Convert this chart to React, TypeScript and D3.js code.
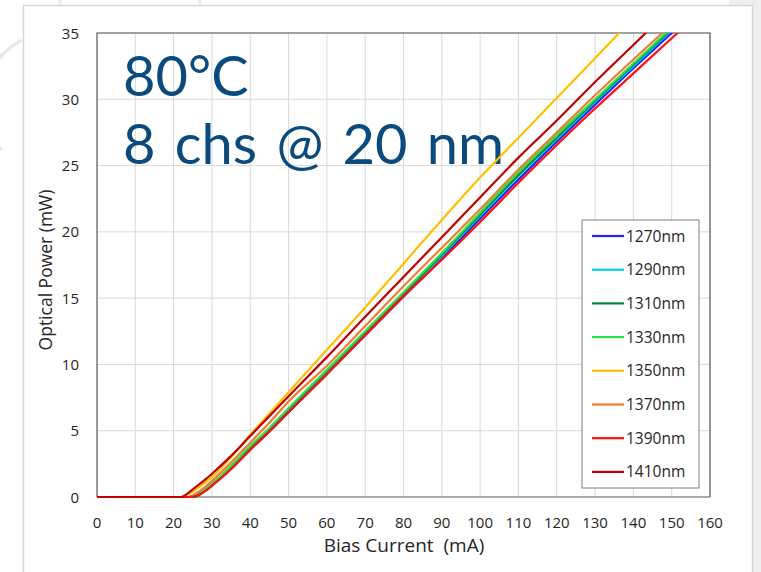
import React from "react";
import * as d3 from "d3";

const currents = [0, 20, 22, 24, 26, 28, 30, 35, 40, 45, 50, 60, 70, 80, 90, 100, 110, 120, 130, 140, 150, 160];

const seriesNames = ["1270nm", "1290nm", "1310nm", "1330nm", "1350nm", "1370nm", "1390nm", "1410nm"];
const seriesColors = ["#1f1fff", "#00d2ee", "#008a3e", "#2ee04a", "#ffc000", "#ed7d31", "#ff1010", "#c00000"];

const p1270 = [0, 0, 0, 0, 0.15, 0.5, 0.95, 2.2, 3.6, 4.95, 6.4, 9.3, 12.2, 15.1, 18.0, 21.0, 23.95, 26.8, 29.6, 32.35, 35.0, 37.7];
const p1290 = [0, 0, 0, 0, 0.2, 0.55, 1.0, 2.3, 3.7, 5.05, 6.5, 9.4, 12.3, 15.2, 18.2, 21.2, 24.2, 27.0, 29.8, 32.5, 35.2, 37.8];
const p1310 = [0, 0, 0, 0, 0.05, 0.4, 0.85, 2.25, 3.75, 5.1, 6.6, 9.5, 12.4, 15.3, 18.3, 21.3, 24.3, 27.1, 29.9, 32.6, 35.3, 37.9];
const p1330 = [0, 0, 0, 0, 0.15, 0.5, 0.95, 2.35, 3.85, 5.2, 6.7, 9.6, 12.5, 15.45, 18.4, 21.45, 24.5, 27.3, 30.0, 32.7, 35.4, 38.0];
const p1350 = [0, 0, 0, 0.25, 0.6, 1.05, 1.5, 3.0, 4.7, 6.3, 7.9, 11.1, 14.3, 17.6, 20.9, 24.1, 27.1, 30.1, 33.1, 36.1, 39.0, 41.9];
const p1370 = [0, 0, 0, 0, 0.3, 0.7, 1.2, 2.6, 4.1, 5.6, 7.2, 9.9, 12.9, 15.9, 18.8, 21.7, 24.7, 27.5, 30.3, 33.0, 35.65, 38.3];
const p1390 = [0, 0, 0, 0, 0.1, 0.4, 0.85, 2.1, 3.55, 4.95, 6.4, 9.25, 12.2, 15.15, 17.9, 20.75, 23.7, 26.55, 29.3, 31.95, 34.6, 37.2];
const p1410 = [0, 0, 0, 0.35, 0.8, 1.25, 1.75, 3.1, 4.6, 6.1, 7.6, 10.55, 13.6, 16.6, 19.6, 22.6, 25.6, 28.4, 31.3, 34.1, 36.9, 39.7];

const seriesValues = [p1270, p1290, p1310, p1330, p1350, p1370, p1390, p1410];

const xTicks = [0, 10, 20, 30, 40, 50, 60, 70, 80, 90, 100, 110, 120, 130, 140, 150, 160];
const yTicks = [0, 5, 10, 15, 20, 25, 30, 35];

const titleLines = ["80°C", "8 chs @ 20 nm"];

export default function App() {
  const W = 761, H = 572;
  const left = 97, right = 710, top = 33, bottom = 497;
  const x = d3.scaleLinear().domain([0, 160]).range([left, right]);
  const y = d3.scaleLinear().domain([0, 35]).range([bottom, top]);
  const line = d3.line<[number, number]>().x(d => x(d[0])).y(d => y(d[1])).curve(d3.curveMonotoneX);
  const font = "'Open Sans', 'Noto Sans', sans-serif";

  const legX = 582, legY = 220, legW = 117, legH = 268;
  const legStep = 33.7;

  return (
    <svg width={W} height={H} style={{ position: "absolute", left: 0, top: 0 }} fontFamily={font}>
      <rect x={0} y={0} width={W} height={H} fill="#ffffff" />
      <rect x={729} y={0} width={32} height={5} fill="#efefef" />
      <rect x={753} y={0} width={8} height={H} fill="#efefef" />
      <path d="M 2 150 A 70 70 0 0 1 22 40" fill="none" stroke="#e6e6e6" strokeWidth={3} />
      <path d="M 60 18 A 70 70 0 0 1 200 5" fill="none" stroke="#ececec" strokeWidth={3} />
      <rect x={23.5} y={5.5} width={729} height={580} fill="#ffffff" stroke="#d6d6d6" strokeWidth={1.5} />
      <defs>
        <clipPath id="plotclip">
          <rect x={left} y={top} width={right - left} height={bottom - top + 2} />
        </clipPath>
      </defs>
      {xTicks.slice(1).map(t => (
        <line key={"gx" + t} x1={x(t)} x2={x(t)} y1={top} y2={bottom} stroke="#d9d9d9" strokeWidth={1} />
      ))}
      {yTicks.slice(1).map(t => (
        <line key={"gy" + t} x1={left} x2={right} y1={y(t)} y2={y(t)} stroke="#d9d9d9" strokeWidth={1} />
      ))}
      <path d={`M ${left} ${bottom} V ${top} H ${right} V ${bottom}`} fill="none" stroke="#595959" strokeWidth={1.2} />
      <line x1={left} x2={right} y1={bottom} y2={bottom} stroke="#8c8c8c" strokeWidth={1.5} />
      {titleLines.map((t, i) => (
        <text key={t} x={123} y={96 + i * 68} fontSize={56} wordSpacing={i === 1 ? 5 : 0} fontFamily="Lato, 'Open Sans', sans-serif" fill="#0a4a7c">{t}</text>
      ))}
      <g clipPath="url(#plotclip)">
        {seriesValues.map((vals, i) => (
          <path
            key={seriesNames[i]}
            d={line(currents.map((c, j) => [c, vals[j]] as [number, number])) || ""}
            fill="none"
            stroke={seriesColors[i]}
            strokeWidth={2.2}
            strokeLinejoin="round"
          />
        ))}
      </g>
      {xTicks.map(t => (
        <text key={"tx" + t} x={x(t)} y={528} textAnchor="middle" fontSize={15} fill="#262626">{t}</text>
      ))}
      {yTicks.map(t => (
        <text key={"ty" + t} x={79} y={y(t) + 5.5} textAnchor="end" fontSize={15} fill="#262626">{t}</text>
      ))}
      <text x={404} y={552} textAnchor="middle" fontSize={19} fill="#262626">{"Bias Current\u00a0 (mA)"}</text>
      <text transform={`translate(52,270) rotate(-90)`} textAnchor="middle" fontSize={17.5} fill="#262626">Optical Power (mW)</text>
      <rect x={legX} y={legY} width={legW} height={legH} fill="#ffffff" stroke="#7f7f7f" strokeWidth={1} />
      {seriesNames.map((n, i) => (
        <g key={"lg" + n}>
          <line x1={592} x2={624} y1={236 + i * legStep} y2={236 + i * legStep} stroke={seriesColors[i]} strokeWidth={2.2} />
          <text x={626} y={236 + i * legStep + 5.5} fontSize={15.5} fill="#262626">{n}</text>
        </g>
      ))}
    </svg>
  );
}
